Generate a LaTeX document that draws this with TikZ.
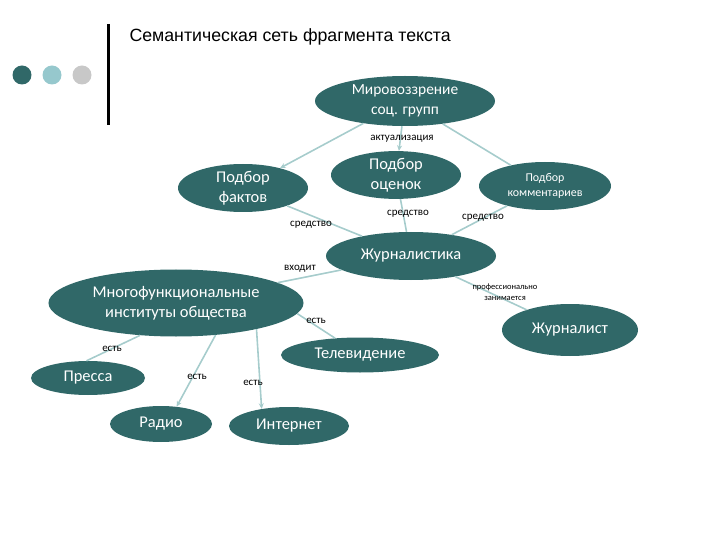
\documentclass[tikz,border=0pt]{standalone}
\usepackage{fontspec}
\setmainfont{Carlito}
\newfontfamily\titlefont{Liberation Sans}
\usetikzlibrary{arrows.meta,shapes.geometric}
\definecolor{netteal}{HTML}{306868}
\definecolor{netline}{HTML}{A6CCCC}
\definecolor{dotblue}{HTML}{96C8CD}
\definecolor{dotgrey}{HTML}{C8C8C8}
\tikzset{
    sem net/.style = {x=1bp, y=-1bp, >={Stealth[length=2mm, width=1.8mm]}},
    concept/.style = {ellipse, fill=netteal, text=white, inner sep=0pt,
                      align=center, font=\fontsize{16.5}{20}\selectfont},
    link/.style    = {draw=netline, line width=1.6pt},
    rel/.style     = {font=\fontsize{11}{12}\selectfont, inner sep=1pt},
    tinyrel/.style = {rel, align=center, font=\fontsize{8.5}{11}\selectfont},
    dot/.style     = {circle, inner sep=0pt, minimum size=19bp}
}

\begin{document}
\begin{tikzpicture}[sem net]
\useasboundingbox (0,0) rectangle (720,540);

% Slide header: dots, bar and title.
\node[dot, fill=netteal] (dark) at (22,75) {};
\node[dot, fill=dotblue] (light) at (52,75) {};
\node[dot, fill=dotgrey] (grey) at (82,75) {};
\draw[line width=3bp] (108,24) -- (108,125);
\node[anchor=west, font=\titlefont\fontsize{17.8}{20}\selectfont] (title) at (126,37)
    {Семантическая сеть фрагмента текста};

% Concepts.
\node[concept, minimum width=180bp, minimum height=50bp,
      font=\fontsize{15.5}{19.5}\selectfont] (worldview) at (405,101) {Мировоззрение\\соц. групп};
\node[concept, minimum width=130bp, minimum height=46bp] (ratings) at (396,175) {Подбор\\оценок};
\node[concept, minimum width=130bp, minimum height=48bp] (facts) at (243,188) {Подбор\\фактов};
\node[concept, minimum width=132bp, minimum height=48bp,
      font=\fontsize{12}{15}\selectfont] (comments) at (545,186) {Подбор\\комментариев};
\node[concept, minimum width=170bp, minimum height=48bp] (journalism) at (411,256) {Журналистика};
\node[concept, minimum width=255bp, minimum height=67bp] (institutes) at (176,303)
    {Многофункциональные\\институты общества};
\node[concept, minimum width=136bp, minimum height=52bp] (journalist) at (570,330) {Журналист};
\node[concept, minimum width=158bp, minimum height=35bp] (tv) at (360,355) {Телевидение};
\node[concept, minimum width=114bp, minimum height=34bp] (press) at (88,378) {Пресса};
\node[concept, minimum width=102bp, minimum height=36bp] (radio) at (161,424) {Радио};
\node[concept, minimum width=120bp, minimum height=38bp] (internet) at (289,426) {Интернет};

% Relations.
\draw[->,link] (worldview) -- (facts);
\draw[->,link] (worldview) -- (ratings);
\draw[link] (worldview) -- (comments);
\draw[link] (facts) -- (journalism);
\draw[link] (ratings) -- (journalism);
\draw[link] (comments) -- (journalism);
\draw[link] (journalism) -- (institutes);
\draw[link] (journalism) -- (journalist);
\draw[link] (institutes.-5) -- (tv.146);
\draw[link] (institutes.-138) -- (press.95);
\draw[->,link] (institutes.-39) -- (radio.48);
\draw[->,link] (institutes.-18) -- (internet.148);

\node[rel] (actual) at (402,139) {актуализация};
\node[rel] (meansf) at (311,225) {средство};
\node[rel] (meansr) at (408,214) {средство};
\node[rel] (meansc) at (483,218) {средство};
\node[rel] (part) at (300,269) {входит};
\node[tinyrel] (prof) at (505,292) {профессионально\\занимается};
\node[rel] (istv) at (316,321) {есть};
\node[rel] (ispress) at (112,349) {есть};
\node[rel] (isradio) at (197,377) {есть};
\node[rel] (isnet) at (253,383) {есть};

\end{tikzpicture}
\end{document}
